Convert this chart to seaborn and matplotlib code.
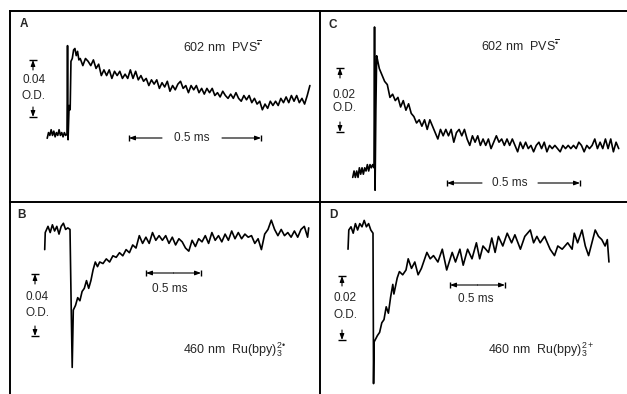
import matplotlib
matplotlib.use('Agg')
import matplotlib.pyplot as plt
import seaborn as sns

W, H = 627, 394

# ---- traces (time in ms after flash, absorbance change) ----
# A : 602 nm, PVS radical anion
a_t = [-0.075, -0.07, -0.065, -0.06, -0.055, -0.05, -0.045, -0.04, -0.035, -0.03,
       -0.025, -0.02, -0.015, -0.01, -0.005, 0.0,
       0.002, 0.004, 0.008, 0.012, 0.015, 0.02, 0.025, 0.03, 0.035, 0.04, 0.045,
       0.05, 0.06, 0.07, 0.08, 0.09, 0.10, 0.11, 0.12, 0.13, 0.14, 0.15, 0.16, 0.17,
       0.18, 0.19, 0.20, 0.21, 0.22, 0.23, 0.24, 0.25, 0.26, 0.27, 0.28, 0.29, 0.30,
       0.31, 0.32, 0.33, 0.34, 0.35, 0.36, 0.37, 0.38, 0.39, 0.40, 0.41, 0.42, 0.43,
       0.44, 0.45, 0.46, 0.47, 0.48, 0.49, 0.50, 0.51, 0.52, 0.53, 0.54, 0.55, 0.56,
       0.57, 0.58, 0.59, 0.60, 0.61, 0.62, 0.63, 0.64, 0.65, 0.66, 0.67, 0.68, 0.69,
       0.70, 0.71, 0.72, 0.73, 0.74, 0.75, 0.76, 0.77, 0.78, 0.79, 0.80, 0.81, 0.82,
       0.83, 0.84, 0.85, 0.86, 0.87, 0.88, 0.89, 0.90, 0.91, 0.92]
a_od = [-0.003, 0.001, -0.001, 0.003, -0.001, 0.002, -0.002, 0.001, -0.001, 0.003,
        -0.001, 0.001, -0.002, 0.001, -0.001, 0.0,
        0.062, -0.004, 0.020, 0.017, 0.051, 0.053, 0.059, 0.060, 0.055, 0.058, 0.052,
        0.053, 0.048, 0.053, 0.051, 0.048, 0.052, 0.046, 0.049, 0.041, 0.045, 0.041,
        0.045, 0.039, 0.044, 0.041, 0.044, 0.039, 0.042, 0.039, 0.045, 0.039, 0.044,
        0.038, 0.041, 0.037, 0.039, 0.034, 0.038, 0.035, 0.038, 0.032, 0.036, 0.033,
        0.037, 0.030, 0.034, 0.031, 0.035, 0.037, 0.032, 0.034, 0.029, 0.034, 0.031,
        0.034, 0.029, 0.032, 0.028, 0.032, 0.029, 0.032, 0.027, 0.029, 0.026, 0.030,
        0.027, 0.025, 0.028, 0.025, 0.029, 0.025, 0.023, 0.027, 0.024, 0.027, 0.022,
        0.025, 0.021, 0.023, 0.017, 0.021, 0.018, 0.023, 0.020, 0.023, 0.020, 0.025,
        0.022, 0.026, 0.022, 0.027, 0.023, 0.027, 0.022, 0.025, 0.021, 0.027, 0.034]

# B : 460 nm, Ru(bpy)3 2+* bleach
b_t = [-0.23, -0.225, -0.20, -0.18, -0.16, -0.14, -0.12, -0.10, -0.08, -0.06, -0.04,
       -0.02, 0.0, 0.01, 0.02, 0.03, 0.05, 0.07, 0.09, 0.11, 0.13, 0.15, 0.17, 0.19,
       0.21, 0.23, 0.25, 0.27, 0.30, 0.33, 0.36, 0.39, 0.42, 0.45, 0.48, 0.51, 0.54,
       0.57, 0.60, 0.63, 0.66, 0.69, 0.72, 0.75, 0.78, 0.81, 0.84, 0.87, 0.90, 0.93,
       0.96, 0.99, 1.02, 1.05, 1.08, 1.11, 1.14, 1.17, 1.20, 1.23, 1.26, 1.29, 1.32,
       1.35, 1.38, 1.41, 1.44, 1.47, 1.50, 1.53, 1.56, 1.59, 1.62, 1.65, 1.68, 1.71,
       1.74, 1.77, 1.80, 1.83, 1.86, 1.89, 1.92, 1.95, 1.98, 2.01, 2.04, 2.07, 2.10,
       2.13, 2.16, 2.17]
b_od = [-0.012, -0.001, 0.003, -0.001, 0.004, 0.000, 0.003, -0.002, 0.003, 0.005,
        0.001, 0.002, 0.001, -0.045, -0.088, -0.051, -0.048, -0.043, -0.045, -0.039,
        -0.037, -0.032, -0.037, -0.032, -0.025, -0.020, -0.023, -0.020, -0.021,
        -0.018, -0.020, -0.016, -0.017, -0.014, -0.016, -0.012, -0.014, -0.009,
        -0.011, -0.003, -0.008, -0.004, -0.008, -0.001, -0.006, -0.003, -0.006,
        -0.003, -0.008, -0.004, -0.009, -0.005, -0.007, -0.011, -0.013, -0.006,
        -0.010, -0.005, -0.007, -0.003, -0.008, -0.001, -0.006, -0.003, -0.007,
        -0.002, -0.006, 0.000, -0.005, -0.001, -0.005, -0.002, -0.004, -0.003,
        -0.008, -0.005, -0.012, -0.002, 0.001, 0.007, 0.001, -0.003, 0.001, -0.003,
        -0.001, -0.004, 0.000, -0.004, 0.001, 0.003, -0.004, 0.002]

# C : 602 nm, PVS radical anion (second sample)
c_t = [-0.08, -0.075, -0.07, -0.065, -0.06, -0.055, -0.05, -0.045, -0.04, -0.035,
       -0.03, -0.025, -0.02, -0.015, -0.01, -0.005, 0.0,
       0.002, 0.004, 0.007, 0.01, 0.015, 0.02,
       0.03, 0.04, 0.05, 0.06, 0.07, 0.08, 0.09, 0.10, 0.11, 0.12, 0.13, 0.14, 0.15,
       0.16, 0.17, 0.18, 0.19, 0.20, 0.21, 0.22, 0.23, 0.24, 0.25, 0.26, 0.27, 0.28,
       0.29, 0.30, 0.31, 0.32, 0.33, 0.34, 0.35, 0.36, 0.37, 0.38, 0.39, 0.40, 0.41,
       0.42, 0.43, 0.44, 0.45, 0.46, 0.47, 0.48, 0.49, 0.50, 0.51, 0.52, 0.53, 0.54,
       0.55, 0.56, 0.57, 0.58, 0.59, 0.60, 0.61, 0.62, 0.63, 0.64, 0.65, 0.66, 0.67,
       0.68, 0.69, 0.70, 0.71, 0.72, 0.73, 0.74, 0.75, 0.76, 0.77, 0.78, 0.79, 0.80,
       0.81, 0.82, 0.83, 0.84, 0.85, 0.86, 0.87, 0.88, 0.89, 0.90, 0.91, 0.92]
c_od = [-0.002, 0.000, -0.002, 0.000, -0.002, 0.001, -0.001, 0.001, -0.001, 0.001,
        0.000, 0.002, 0.000, 0.002, 0.001, 0.002, 0.001,
        0.045, -0.006, 0.019, 0.036, 0.034, 0.032,
        0.030, 0.028, 0.027, 0.023, 0.024, 0.022, 0.023, 0.020, 0.022, 0.019, 0.021,
        0.018, 0.017, 0.015, 0.016, 0.014, 0.016, 0.013, 0.016, 0.014, 0.012, 0.010,
        0.013, 0.011, 0.013, 0.011, 0.013, 0.009, 0.012, 0.013, 0.011, 0.013, 0.010,
        0.008, 0.011, 0.009, 0.011, 0.008, 0.010, 0.008, 0.010, 0.007, 0.009, 0.011,
        0.009, 0.010, 0.008, 0.010, 0.008, 0.010, 0.008, 0.006, 0.009, 0.007, 0.009,
        0.007, 0.008, 0.006, 0.008, 0.009, 0.007, 0.009, 0.006, 0.008, 0.007, 0.008,
        0.007, 0.006, 0.008, 0.007, 0.008, 0.007, 0.008, 0.007, 0.009, 0.008, 0.006,
        0.008, 0.007, 0.008, 0.010, 0.007, 0.009, 0.007, 0.010, 0.007, 0.010, 0.006,
        0.009, 0.007]

# D : 460 nm, Ru(bpy)3 2+ bleach (second sample)
d_t = [-0.227, -0.22, -0.20, -0.18, -0.16, -0.14, -0.12, -0.10, -0.08, -0.06, -0.04,
       -0.02, 0.0, 0.005, 0.01, 0.04, 0.06, 0.08, 0.10, 0.12, 0.14, 0.16, 0.18, 0.19,
       0.22, 0.24, 0.27, 0.30, 0.32, 0.35, 0.38, 0.41, 0.44, 0.49, 0.52, 0.55, 0.59,
       0.63, 0.67, 0.72, 0.75, 0.79, 0.82, 0.86, 0.90, 0.94, 0.97, 1.00, 1.05, 1.08,
       1.11, 1.14, 1.18, 1.22, 1.26, 1.29, 1.34, 1.38, 1.43, 1.46, 1.49, 1.52, 1.56,
       1.61, 1.65, 1.68, 1.72, 1.77, 1.81, 1.83, 1.86, 1.90, 1.93, 1.96, 1.99, 2.02,
       2.05, 2.08, 2.11, 2.13, 2.145]
d_od = [-0.006, 0.000, 0.001, -0.001, 0.002, 0.000, 0.002, 0.001, 0.003, 0.001,
        0.002, 0.000, -0.001, -0.048, -0.035, -0.033, -0.032, -0.029, -0.028,
        -0.024, -0.026, -0.021, -0.017, -0.020, -0.015, -0.013, -0.014, -0.0125,
        -0.009, -0.012, -0.010, -0.014, -0.012, -0.007, -0.009, -0.008, -0.010,
        -0.006, -0.0125, -0.007, -0.010, -0.006, -0.011, -0.006, -0.009, -0.004,
        -0.009, -0.005, -0.007, -0.0025, -0.007, -0.002, -0.005, -0.001, -0.004,
        -0.0015, -0.006, -0.002, 0.000, -0.004, -0.002, -0.004, -0.002, -0.006,
        -0.008, -0.005, -0.006, -0.004, -0.006, -0.001, -0.004, 0.000, -0.005,
        -0.008, -0.004, 0.000, -0.002, -0.003, -0.005, -0.003, -0.010]

bar_ms = 0.5
bar_od = {'A': 0.04, 'B': 0.04, 'C': 0.02, 'D': 0.02}

sns.set_style('white')
plt.rcParams['font.family'] = ['Liberation Sans', 'DejaVu Sans']
plt.rcParams['mathtext.fontset'] = 'custom'
plt.rcParams['mathtext.rm'] = 'Liberation Sans'
plt.rcParams['mathtext.it'] = 'Liberation Sans'

fig = plt.figure(figsize=(W / 100, H / 100), dpi=100)

# panel box in pixels (left, top, right, bottom), flash/baseline pixel, px per ms, px per OD
panels = {
    'A': dict(box=(10, 11, 320, 202), x0=67, y0=134, sx=264, sy=1425, t=a_t, od=a_od),
    'B': dict(box=(10, 202, 320, 394), x0=70, y0=231, sx=110, sy=1550, t=b_t, od=b_od),
    'C': dict(box=(320, 11, 627, 202), x0=374, y0=171, sx=266, sy=3200, t=c_t, od=c_od),
    'D': dict(box=(320, 202, 627, 394), x0=373, y0=230, sx=110, sy=3200, t=d_t, od=d_od),
}


def to_data(p, x, y):
    return (x - p['x0']) / p['sx'], (p['y0'] - y) / p['sy']


def ftext(x, y, s, **kw):
    fig.text(x / W, 1 - y / H, s, ha='center', va='center', **kw)


axes = {}
for key, p in panels.items():
    l, t, r, b = p['box']
    ax = fig.add_axes([l / W, 1 - b / H, (r - l) / W, (b - t) / H])
    sns.lineplot(x=p['t'], y=p['od'], ax=ax, color='black', lw=1.2,
                 sort=False, estimator=None)
    x_lo, y_lo = to_data(p, l, b)
    x_hi, y_hi = to_data(p, r, t)
    ax.set_xlim(x_lo, x_hi)
    ax.set_ylim(y_lo, y_hi)
    ax.set_xticks([])
    ax.set_yticks([])
    ax.set_xlabel('')
    ax.set_ylabel('')
    ax.patch.set_alpha(0)
    for side in ['right', 'bottom']:
        ax.spines[side].set_visible(False)
    for side in ['top', 'left']:
        ax.spines[side].set_color('black')
        ax.spines[side].set_linewidth(1.4)
    axes[key] = ax

arrow = dict(arrowstyle='-|>,head_length=0.35,head_width=0.13', color='black',
             lw=0.8, shrinkA=0, shrinkB=0)


def time_bar(key, x_px, y_px, text_xy, gap_px=None):
    p = panels[key]
    ax = axes[key]
    t0, yv = to_data(p, x_px, y_px)
    t1 = t0 + bar_ms
    ax.plot([t0, t1], [yv, yv], ls='none', marker='|', ms=5, mew=1.0, color='black')
    if gap_px is None:
        mid = (t0 + t1) / 2
        ax.annotate('', xy=(t0, yv), xytext=(mid, yv), arrowprops=arrow)
        ax.annotate('', xy=(t1, yv), xytext=(mid, yv), arrowprops=arrow)
    else:
        tm = to_data(p, text_xy[0], y_px)[0]
        g = gap_px / p['sx']
        ax.annotate('', xy=(t0, yv), xytext=(tm - g, yv), arrowprops=arrow)
        ax.annotate('', xy=(t1, yv), xytext=(tm + g, yv), arrowprops=arrow)
    ftext(text_xy[0], text_xy[1], '0.5 ms', fontsize=8.5)


def od_bar(key, x_px, top_px, label, text_x, y_num, y_od, stem_px=10):
    p = panels[key]
    ax = axes[key]
    xv, top = to_data(p, x_px, top_px)
    bot = top - bar_od[key]
    s = stem_px / p['sy']
    ax.plot([xv, xv], [top, bot], ls='none', marker='_', ms=6, mew=1.0, color='black')
    ax.annotate('', xy=(xv, top), xytext=(xv, top - s), arrowprops=arrow)
    ax.annotate('', xy=(xv, bot), xytext=(xv, bot + s), arrowprops=arrow)
    ftext(text_x, y_num, label, fontsize=8.5)
    ftext(text_x, y_od, 'O.D.', fontsize=8.5)


# panel letters
for key, (x, y) in {'A': (24, 24), 'B': (22, 215), 'C': (333, 25), 'D': (333, 215)}.items():
    ftext(x, y, key, fontsize=8.5, fontweight='bold')

# wavelength / species labels
pvs = '602 nm  PVS$^{\\overline{\u2022}}$'
ftext(222, 47, pvs, fontsize=9)
ftext(520, 46, pvs, fontsize=9)
ftext(234, 350, '460 nm  Ru(bpy)$_3^{2\u2022}$', fontsize=9)
ftext(541, 350, '460 nm  Ru(bpy)$_3^{2+}$', fontsize=9)

# scale bars
time_bar('A', 129, 138, (192, 138), gap_px=30)
time_bar('C', 447, 183, (510, 183), gap_px=28)
time_bar('B', 146, 273, (170, 289))
time_bar('D', 450, 285, (476, 299))

od_bar('A', 33, 60, '0.04', 34, 80, 96)
od_bar('B', 35, 274, '0.04', 37, 297, 313)
od_bar('C', 340, 68, '0.02', 344, 95, 108)
od_bar('D', 342, 276, '0.02', 345, 298, 315)

fig.savefig('out.png', dpi=100)
